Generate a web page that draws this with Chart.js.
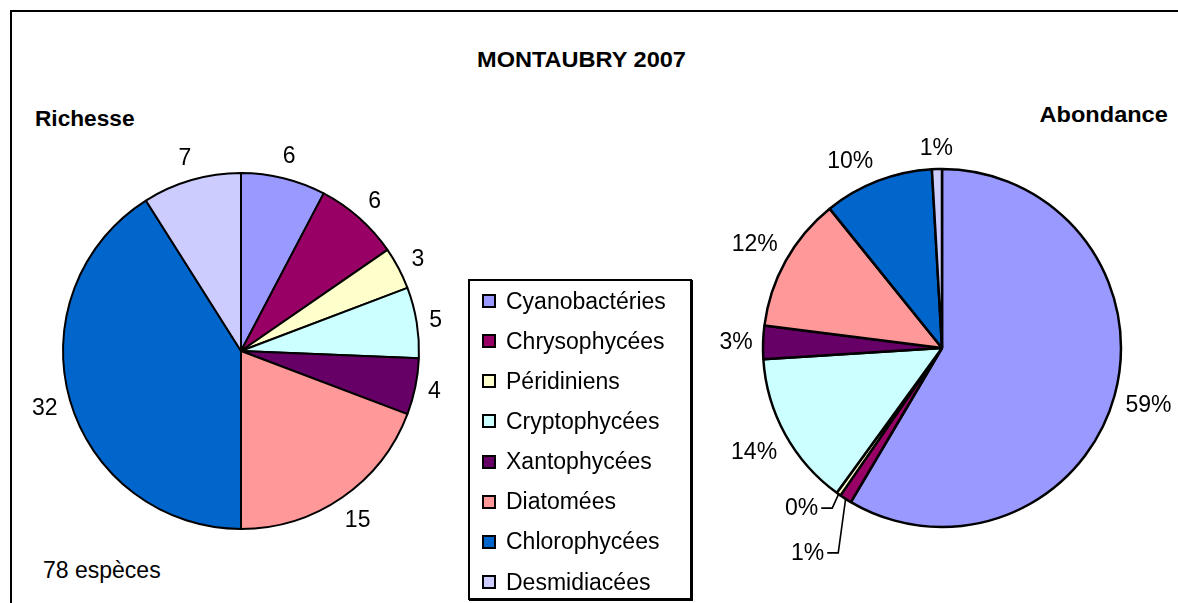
<!DOCTYPE html>
<html lang="fr">
<head>
<meta charset="utf-8">
<title>MONTAUBRY 2007</title>
<script src="https://cdn.jsdelivr.net/npm/chart.js@4/dist/chart.umd.min.js"></script>
<style>
    html, body { margin: 0; padding: 0; background: #fff; }
    body {
        width: 1178px; height: 603px; position: relative; overflow: hidden;
        font-family: "Liberation Sans", Arial, sans-serif; color: #000;
    }
    #frame {
        position: absolute; left: 10px; top: 10px; width: 1200px; height: 700px;
        border-left: 2px solid #000; border-top: 2px solid #000;
    }
    .txt { position: absolute; white-space: nowrap; line-height: 1; }
    .bold { font-weight: bold; font-size: 22px; }
    #title { left: 0; width: 1163px; top: 49px; text-align: center; transform: scaleX(1.07); }
    #richesse { left: 35px; top: 108px; transform: scaleX(1.03); transform-origin: left center; }
    #abondance { right: 10px; top: 104px; transform: scaleX(1.07); transform-origin: right center; }
    #especes { left: 43px; top: 559px; font-size: 23px; }
    canvas { position: absolute; }
    #richesseChart { left: 11px; top: 121px; }
    #abondanceChart { left: 702px; top: 108px; }
    #legend {
        position: absolute; left: 468px; top: 279px; width: 220px; height: 317px;
        border: 2px solid #000; box-shadow: 1px 1px 0 #000; background: #fff;
    }
    #legend ul { list-style: none; margin: 0; padding: 0; }
    #legend li { height: 40.15px; display: flex; align-items: center; font-size: 23px; }
    #legend .box { width: 10px; height: 10px; border: 2px solid #000; margin-left: 12px; margin-right: 10px; }
</style>
</head>
<body>
<div id="frame"></div>
<div id="title" class="txt bold">MONTAUBRY 2007</div>
<div id="richesse" class="txt bold">Richesse</div>
<div id="abondance" class="txt bold">Abondance</div>
<div id="especes" class="txt">78 espèces</div>

<canvas id="richesseChart" width="460" height="460"></canvas>
<canvas id="abondanceChart" width="480" height="480"></canvas>
<div id="legend"></div>

<script>
const categories = ['Cyanobactéries', 'Chrysophycées', 'Péridiniens', 'Cryptophycées',
                    'Xantophycées', 'Diatomées', 'Chlorophycées', 'Desmidiacées'];

// nombre d'espèces par groupe
const richesse = [6, 6, 3, 5, 4, 15, 32, 7];

// abondance relative (%)
const abondance = [58.5, 1.1, 0.4, 14.0, 3.0, 12.2, 9.9, 0.9];

const colors = ['#9999FF', '#990066', '#FFFFCC', '#CCFFFF',
                '#660066', '#FF9999', '#0066CC', '#CCCCFF'];

// valeurs écrites autour du camembert, avec trait de rappel pour les petites parts
const outsideLabels = {
    id: 'outsideLabels',
    afterDatasetsDraw(chart, args, opts) {
        const ctx = chart.ctx;
        const meta = chart.getDatasetMeta(0);
        const values = chart.data.datasets[0].data;
        const leaders = opts.leaders || {};
        const shift = opts.shift || [];

        ctx.save();
        ctx.font = opts.font;
        ctx.fillStyle = '#000';
        ctx.strokeStyle = '#000';
        ctx.lineWidth = 1.6;
        ctx.textAlign = 'center';
        ctx.textBaseline = 'middle';

        meta.data.forEach((arc, i) => {
            const p = arc.getProps(['x', 'y', 'startAngle', 'endAngle', 'outerRadius'], true);
            const text = opts.format(values[i], values);
            const w = ctx.measureText(text).width;
            const mid = (p.startAngle + p.endAngle) / 2;

            if (leaders[i]) {
                const ax = p.x + p.outerRadius * Math.cos(mid);
                const ay = p.y + p.outerRadius * Math.sin(mid);
                const tx = ax + leaders[i][0];
                const ty = ay + leaders[i][1];
                ctx.fillText(text, tx, ty + 1);
                ctx.beginPath();
                ctx.moveTo(tx + w / 2 + 3, ty);
                ctx.lineTo(tx + w / 2 + 14, ty);
                ctx.lineTo(ax, ay);
                ctx.stroke();
                return;
            }

            const a = mid + (shift[i] || 0) * Math.PI / 180;
            const dx = Math.cos(a), dy = Math.sin(a);
            const d = p.outerRadius + opts.gap + Math.abs(dx) * w / 2 + Math.abs(dy) * opts.halfHeight;
            ctx.fillText(text, p.x + dx * d, p.y + dy * d + 1);
        });
        ctx.restore();
    }
};

// légende commune, construite à partir des items du premier graphique
const htmlLegend = {
    id: 'htmlLegend',
    afterUpdate(chart) {
        const container = document.getElementById('legend');
        const ul = document.createElement('ul');
        const items = chart.options.plugins.legend.labels.generateLabels(chart);
        items.forEach(item => {
            const li = document.createElement('li');
            const box = document.createElement('span');
            box.className = 'box';
            box.style.background = item.fillStyle;
            li.appendChild(box);
            li.appendChild(document.createTextNode(item.text));
            ul.appendChild(li);
        });
        container.innerHTML = '';
        container.appendChild(ul);
    }
};

Chart.defaults.font.family = '"Liberation Sans", Arial, sans-serif';

function pieOptions(radius, labelOpts) {
    return {
        responsive: false,
        devicePixelRatio: 1,
        animation: false,
        events: [],
        radius: radius,
        plugins: {
            legend: { display: false },
            tooltip: { enabled: false },
            outsideLabels: labelOpts
        }
    };
}

new Chart(document.getElementById('richesseChart'), {
    type: 'pie',
    data: {
        labels: categories,
        datasets: [{
            data: richesse,
            backgroundColor: colors,
            borderColor: '#000',
            borderWidth: 2
        }]
    },
    options: pieOptions(178, {
        font: '23px "Liberation Sans", Arial, sans-serif',
        gap: 11,
        halfHeight: 11,
        format: v => String(v)
    }),
    plugins: [outsideLabels, htmlLegend]
});

new Chart(document.getElementById('abondanceChart'), {
    type: 'pie',
    data: {
        labels: categories,
        datasets: [{
            data: abondance,
            backgroundColor: colors,
            borderColor: '#000',
            borderWidth: 2.5
        }]
    },
    options: pieOptions(179, {
        font: '23px "Liberation Sans", Arial, sans-serif',
        gap: 10,
        halfHeight: 11,
        shift: [0, 0, 0, 0, 0, 0, -5, 0],
        leaders: { 1: [-38, 54], 2: [-37, 14] },
        format: (v, all) => {
            const total = all.reduce((s, x) => s + x, 0);
            return Math.round(v / total * 100) + '%';
        }
    }),
    plugins: [outsideLabels]
});
</script>
</body>
</html>
